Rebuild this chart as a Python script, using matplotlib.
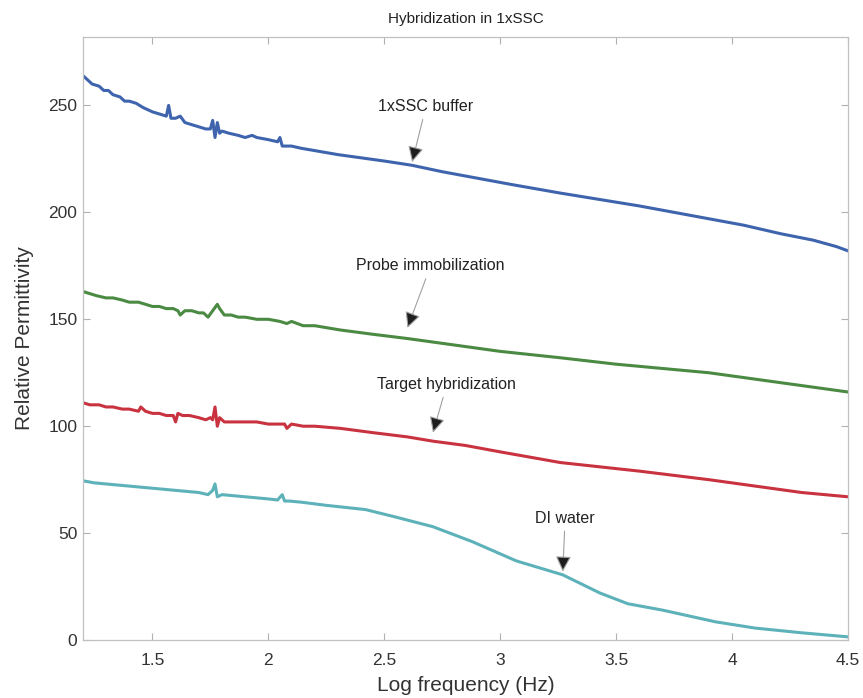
import matplotlib

matplotlib.use("Agg")
import matplotlib.pyplot as plt

plt.rcParams["font.family"] = ["Liberation Sans", "DejaVu Sans"]

# (log frequency in Hz, relative permittivity).
buffer_x = [1.20, 1.22, 1.24, 1.27, 1.29, 1.31, 1.33, 1.36, 1.38, 1.40, 1.43, 1.46,
            1.48, 1.50, 1.53, 1.56, 1.57, 1.58, 1.60, 1.62, 1.64, 1.67, 1.70, 1.73,
            1.75, 1.76, 1.77, 1.78, 1.79, 1.80, 1.83, 1.87, 1.90, 1.93, 1.95, 2.00,
            2.04, 2.05, 2.06, 2.08, 2.10, 2.14, 2.30, 2.50, 2.62, 2.75, 2.90, 3.05,
            3.26, 3.43, 3.60, 3.75, 3.90, 4.05, 4.21, 4.35, 4.45, 4.50]
buffer_y = [264, 262, 260, 259, 257, 257, 255, 254, 252, 252, 251, 249,
            248, 247, 246, 245, 250, 244, 244, 245, 242, 241, 240, 239,
            239, 243, 235, 242, 237, 238, 237, 236, 235, 236, 235, 234,
            233, 235, 231, 231, 231, 230, 227, 224, 222, 219, 216, 213,
            209, 206, 203, 200, 197, 194, 190, 187, 184, 182]

probe_x = [1.20, 1.23, 1.26, 1.30, 1.33, 1.37, 1.40, 1.44, 1.47, 1.50, 1.53, 1.56,
           1.59, 1.61, 1.62, 1.64, 1.67, 1.70, 1.72, 1.74, 1.76, 1.78, 1.79, 1.81,
           1.84, 1.87, 1.90, 1.95, 2.00, 2.05, 2.08, 2.10, 2.15, 2.20, 2.31, 2.45,
           2.60, 2.80, 3.00, 3.26, 3.50, 3.70, 3.90, 4.10, 4.30, 4.50]
probe_y = [163, 162, 161, 160, 160, 159, 158, 158, 157, 156, 156, 155,
           155, 154, 152, 154, 154, 153, 153, 151, 154, 157, 155, 152,
           152, 151, 151, 150, 150, 149, 148, 149, 147, 147, 145, 143,
           141, 138, 135, 132, 129, 127, 125, 122, 119, 116]

target_x = [1.20, 1.23, 1.27, 1.30, 1.33, 1.37, 1.40, 1.44, 1.45, 1.47, 1.50, 1.53,
            1.56, 1.59, 1.60, 1.61, 1.63, 1.66, 1.70, 1.73, 1.75, 1.76, 1.77, 1.78,
            1.79, 1.81, 1.85, 1.90, 1.95, 2.00, 2.05, 2.07, 2.08, 2.10, 2.15, 2.20,
            2.31, 2.45, 2.60, 2.71, 2.85, 3.00, 3.26, 3.43, 3.60, 3.90, 4.10, 4.30,
            4.50]
target_y = [111, 110, 110, 109, 109, 108, 108, 107, 109, 107, 106, 106,
            105, 105, 102, 106, 105, 105, 104, 103, 104, 103, 109, 100,
            104, 102, 102, 102, 102, 101, 101, 101, 99, 101, 100, 100,
            99, 97, 95, 93, 91, 88, 83, 81, 79, 75, 72, 69,
            67]

water_x = [1.20, 1.25, 1.30, 1.35, 1.40, 1.45, 1.50, 1.55, 1.60, 1.65, 1.70, 1.74,
           1.76, 1.77, 1.78, 1.80, 1.85, 1.90, 1.95, 2.00, 2.04, 2.06, 2.07, 2.09,
           2.14, 2.25, 2.42, 2.55, 2.71, 2.88, 3.07, 3.27, 3.43, 3.55, 3.70, 3.93,
           4.10, 4.30, 4.50]
water_y = [74.5, 73.5, 73, 72.5, 72, 71.5, 71, 70.5, 70, 69.5, 69, 68,
           70, 73, 67, 68, 67.5, 67, 66.5, 66, 65.5, 68, 65, 65,
           64.5, 63, 61, 57.5, 53, 46, 37, 30.5, 22, 17, 14, 8.5,
           5.6, 3.4, 1.5]

series = [
    (buffer_x, buffer_y, "#3f64ae"),
    (probe_x, probe_y, "#4b8a42"),
    (target_x, target_y, "#c9323f"),
    (water_x, water_y, "#5db2ba"),
]

# label, text position, arrow tip
notes = [
    ("1xSSC buffer", (2.68, 249.5), (2.62, 223.5)),
    ("Probe immobilization", (2.70, 175), (2.60, 146)),
    ("Target hybridization", (2.77, 119.5), (2.71, 97)),
    ("DI water", (3.28, 57), (3.27, 32)),
]

fig = plt.figure(figsize=(8.63, 6.98), dpi=100)
ax = fig.add_axes([0.096, 0.083, 0.8866, 0.864])

for xs, ys, color in series:
    ax.plot(xs, ys, color=color, lw=2.2, solid_joinstyle="round")

for text, xy_text, xy_tip in notes:
    ax.annotate(
        text,
        xy=xy_tip,
        xytext=xy_text,
        ha="center",
        va="center",
        fontsize=11.5,
        color="#222222",
        arrowprops=dict(
            arrowstyle="-|>,head_length=0.5,head_width=0.25",
            mutation_scale=19,
            lw=0.8,
            ec="#a0a0a0",
            fc="#1e1e1e",
            shrinkA=2,
            shrinkB=0,
        ),
    )

ax.set_xlim(1.2, 4.5)
ax.set_ylim(0, 282)
ax.set_xticks([1.5, 2, 2.5, 3, 3.5, 4, 4.5])
ax.set_xticklabels(["1.5", "2", "2.5", "3", "3.5", "4", "4.5"])
ax.set_yticks([0, 50, 100, 150, 200, 250])

ax.tick_params(direction="in", top=True, right=True, length=5, width=0.8,
               color="#b0b0b0", labelsize=12.5, labelcolor="#333333")
ax.tick_params(axis="x", pad=9)
ax.tick_params(axis="y", pad=4)
for sp in ax.spines.values():
    sp.set_color("#c0c0c0")
    sp.set_linewidth(0.9)

ax.set_xlabel("Log frequency (Hz)", fontsize=15, color="#333333", labelpad=6)
ax.set_ylabel("Relative Permittivity", fontsize=15, color="#333333", labelpad=10)
ax.set_title("Hybridization in 1xSSC", fontsize=11, color="#222222", pad=10)

fig.savefig("out.png", dpi=100)
plt.close(fig)
